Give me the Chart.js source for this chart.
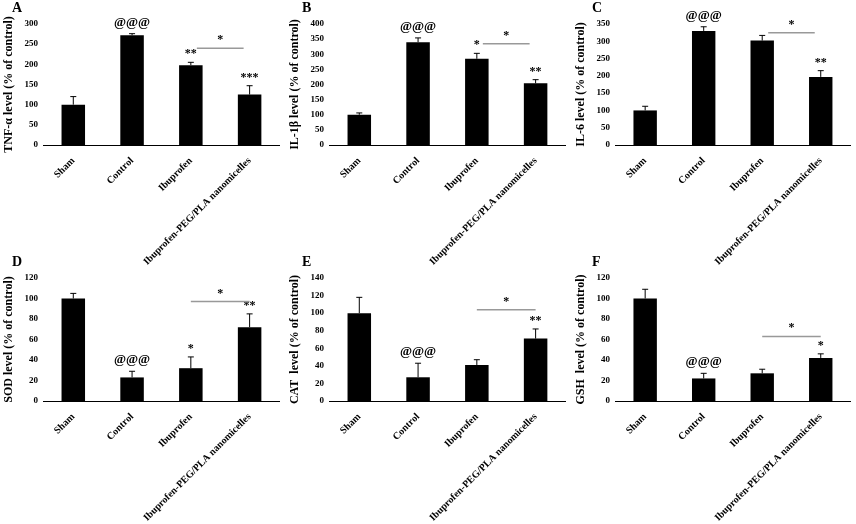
<!DOCTYPE html>
<html><head><meta charset="utf-8">
<script src="https://cdn.jsdelivr.net/npm/chart.js@4"></script>
<style>
body{margin:0;background:#fff;width:856px;height:524px;position:relative;overflow:hidden;font-family:"Liberation Serif",serif}
.p{position:absolute}
.lab{position:absolute;font:bold 14px "Liberation Serif",serif}
</style></head><body>
<script>
const categories = ['Sham', 'Control', 'Ibuprofen', 'Ibuprofen-PEG/PLA nanomicelles'];
const panelNames = ['A', 'B', 'C', 'D', 'E', 'F'];
const yTitles = ['TNF-α level (% of control)', 'IL-1β level (% of control)', 'IL-6 level (% of control)',
  'SOD level (% of control)', 'CAT  level (% of control)', 'GSH  level (% of control)'];
const yMax = [300, 400, 350, 120, 140, 120];
const yStep = [50, 50, 50, 20, 20, 20];
const means = [
  [100, 272, 198, 125],
  [100, 340, 285, 204],
  [100, 330, 302, 197],
  [100, 23, 32, 72],
  [100, 27, 41, 71],
  [100, 22, 27, 42]
];
const errors = [
  [20, 4, 7, 22],
  [6, 14, 18, 12],
  [12, 12, 15, 18],
  [5, 6, 11, 13],
  [18, 16, 6, 11],
  [9, 5, 4, 4]
];
const marks = [
  ['', '@@@', '**', '***'],
  ['', '@@@', '*', '**'],
  ['', '@@@', '', '**'],
  ['', '@@@', '*', '**'],
  ['', '@@@', '', '**'],
  ['', '@@@', '', '*']
];
// height of the bracket line between Ibuprofen and nanomicelles
const bracketY = [240, 335, 325, 97, 104, 63];

// canvas boxes [left, top, width, height]
const boxes = [
  [0, 10, 285, 256], [286, 10, 285, 256], [572, 10, 284, 256],
  [0, 264, 285, 260], [286, 264, 285, 260], [572, 264, 284, 260]
];
const letterPos = [[12, 0], [302, 0], [592, 0], [12, 254], [302, 254], [592, 254]];

const errPlugin = {
  id: 'err',
  afterDatasetsDraw(chart) {
    const i = chart.options.plugins.err.idx;
    const ctx = chart.ctx, xs = chart.scales.x, ys = chart.scales.y;
    ctx.save();
    ctx.strokeStyle = '#000'; ctx.lineWidth = 1;
    means[i].forEach((m, j) => {
      const x = xs.getPixelForValue(j);
      const top = ys.getPixelForValue(m + errors[i][j]);
      ctx.beginPath();
      ctx.moveTo(x, ys.getPixelForValue(m)); ctx.lineTo(x, top);
      ctx.moveTo(x - 3, top); ctx.lineTo(x + 3, top);
      ctx.stroke();
      if (marks[i][j]) {
        ctx.fillStyle = '#000';
        ctx.font = marks[i][j][0] === '@' ? 'bold 13px "Liberation Serif"' : 'bold 12px "Liberation Serif"';
        ctx.textAlign = 'center';
        ctx.fillText(marks[i][j], x, top - (marks[i][j][0] === '@' ? 8 : 5));
      }
    });
    const by = ys.getPixelForValue(bracketY[i]);
    const x1 = xs.getPixelForValue(2) + (i < 3 ? 6 : 0), x2 = xs.getPixelForValue(3) - (i < 3 ? 6 : 0);
    ctx.strokeStyle = '#999'; ctx.lineWidth = 1.5;
    ctx.beginPath(); ctx.moveTo(x1, by); ctx.lineTo(x2, by); ctx.stroke();
    ctx.fillStyle = '#000'; ctx.font = 'bold 12px "Liberation Serif"'; ctx.textAlign = 'center';
    ctx.fillText('*', (x1 + x2) / 2, by - 5);
    ctx.restore();
  }
};

panelNames.forEach((name, i) => {
  const b = boxes[i];
  const c = document.createElement('canvas');
  c.className = 'p';
  c.style.left = b[0] + 'px'; c.style.top = b[1] + 'px';
  c.style.width = b[2] + 'px'; c.style.height = b[3] + 'px';
  c.width = b[2]; c.height = b[3];
  document.body.appendChild(c);
  const l = document.createElement('div');
  l.className = 'lab'; l.textContent = name;
  l.style.left = letterPos[i][0] + 'px'; l.style.top = letterPos[i][1] + 'px';
  document.body.appendChild(l);
  new Chart(c, {
    type: 'bar',
    data: { labels: categories, datasets: [{ data: means[i], backgroundColor: '#000', barPercentage: 0.4, categoryPercentage: 1 }] },
    options: {
      responsive: false, animation: false,
      layout: { padding: { top: i < 3 ? 14 : 14, right: 6 } },
      plugins: { legend: { display: false }, tooltip: { enabled: false }, err: { idx: i } },
      scales: {
        x: {
          grid: { display: false, drawTicks: false },
          border: { color: '#000' },
          ticks: { maxRotation: 45, minRotation: 45, color: '#000', padding: 10, font: { family: 'Liberation Serif', weight: 'bold', size: 10 } }
        },
        y: {
          min: 0, max: yMax[i],
          grid: { display: false, drawTicks: false },
          border: { display: false },
          ticks: { stepSize: yStep[i], color: '#000', padding: 6, font: { family: 'Liberation Serif', weight: 'bold', size: 9 } },
          title: { display: true, text: yTitles[i], color: '#000', padding: 2, font: { family: 'Liberation Serif', weight: 'bold', size: 12 } }
        }
      }
    },
    plugins: [errPlugin]
  });
});
</script>
</body></html>
